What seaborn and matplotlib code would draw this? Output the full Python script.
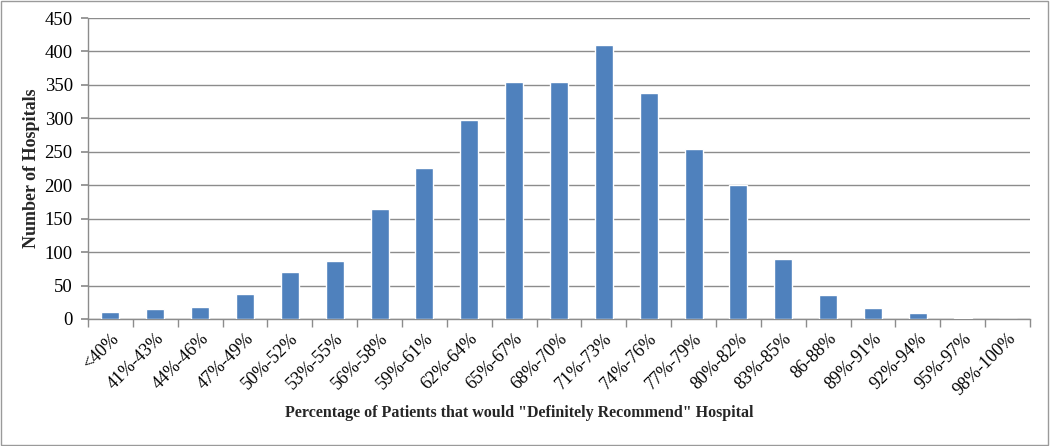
import numpy as np
import pandas as pd
import seaborn as sns
import matplotlib.pyplot as plt
from matplotlib.patches import Rectangle
from matplotlib.ticker import FixedLocator

ranges = ['<40%', '41%-43%', '44%-46%', '47%-49%', '50%-52%', '53%-55%',
          '56%-58%', '59%-61%', '62%-64%', '65%-67%', '68%-70%', '71%-73%',
          '74%-76%', '77%-79%', '80%-82%', '83%-85%', '86-88%', '89%-91%',
          '92%-94%', '95%-97%', '98%-100%']
hospitals = [11, 15, 18, 37, 70, 87, 164, 226, 297, 354, 355, 409,
             338, 254, 200, 90, 36, 17, 9, 1, 0]
y_ticks = [0, 50, 100, 150, 200, 250, 300, 350, 400, 450]

df = pd.DataFrame({'range': ranges, 'count': hospitals})

sns.set_theme(style='white')
plt.rcParams['font.family'] = ['Liberation Serif', 'DejaVu Serif']

fig = plt.figure(figsize=(10.5, 4.46), dpi=100)
ax = fig.add_axes([0.0838, 0.2848, 0.8972, 0.6748])

sns.barplot(x='range', y='count', data=df, color='#4F81BD', saturation=1,
            width=0.4, ax=ax, zorder=3)

ax.set_ylim(0, 450)
ax.set_xlim(-0.5, len(ranges) - 0.5)
ax.set_yticks(y_ticks)
ax.yaxis.grid(True, color='#8C8C8C', linewidth=1)
ax.set_axisbelow(True)

for s in ['top', 'right']:
    ax.spines[s].set_visible(False)
for s in ['left', 'bottom']:
    ax.spines[s].set_color('#8C8C8C')
    ax.spines[s].set_linewidth(1)

ax.tick_params(axis='y', which='major', length=5, color='#8C8C8C',
               direction='out', labelsize=13.5, pad=6, left=True)
ax.tick_params(axis='x', which='major', length=0, labelsize=13, pad=8)
ax.xaxis.set_minor_locator(FixedLocator(np.arange(-0.5, len(ranges), 1)))
ax.tick_params(axis='x', which='minor', length=6, color='#8C8C8C',
               direction='out', bottom=True)
plt.setp(ax.get_xticklabels(), rotation=45, ha='right', rotation_mode='anchor')
for lbl in ax.get_yticklabels() + ax.get_xticklabels():
    lbl.set_color('black')

ax.set_xlabel('Percentage of Patients that would "Definitely Recommend" Hospital',
              fontsize=11.5, fontweight='bold')
ax.xaxis.set_label_coords(0.4575, -0.285)
ax.set_ylabel('Number of Hospitals', fontsize=13, fontweight='bold')
ax.yaxis.set_label_coords(-0.051, 0.5)

fig.patches.append(Rectangle((0.001, 0.002), 0.997, 0.995, transform=fig.transFigure,
                             fill=False, edgecolor='#9A9A9A', linewidth=1))

fig.savefig('out.png', dpi=100)
